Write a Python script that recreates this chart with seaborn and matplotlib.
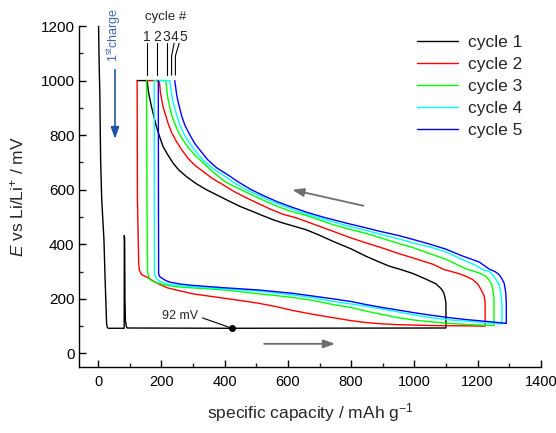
import matplotlib
matplotlib.use("Agg")
import matplotlib.pyplot as plt
from matplotlib.ticker import MultipleLocator
import numpy as np
import pandas as pd
import seaborn as sns

# cycle 1: first discharge (with spike), flat plateau at 92 mV, then charge back
cap1 = [1, 3, 5, 7.5, 11, 18, 22, 26.5, 29, 33,
        82, 82.5, 83.5, 84.5, 86, 89, 92,
        423, 1100,
        1100, 1097, 1093, 1085, 1068, 1037, 995, 958, 920, 889, 847, 800, 742, 700,
        658, 620, 584, 553, 520, 489, 450, 416, 380, 342, 310, 279, 255, 237, 220,
        205, 194, 184, 176, 168.5, 162, 158, 155, 123]
e1 = [1200, 1050, 950, 709, 563, 417, 260, 106, 94, 92,
      92, 432, 417, 200, 120, 98, 93,
      92, 93,
      185, 205, 222, 237, 255, 272, 293, 307, 320, 335, 356, 383, 411, 433,
      453, 466, 478, 490, 505, 520, 538, 557, 578, 600, 622, 648, 672, 697, 728,
      758, 795, 831, 868, 904, 940, 965, 1000, 1000]

cap2 = [123, 124, 128, 130, 137, 158, 175, 195, 220, 248, 300, 350, 405, 460, 511,
        560, 616, 680, 742, 800, 847, 900, 953, 1058, 1150, 1224,
        1224, 1221, 1211, 1200, 1184, 1160, 1142, 1095, 1058, 995, 953, 889, 847,
        795, 742, 690, 626, 584, 542, 469, 430, 395, 360, 331.5, 305, 284, 265,
        247.5, 232, 221, 205, 197, 193, 153]
e2 = [1000, 560, 330, 305, 289, 277, 265, 252, 240, 232, 218, 210, 201, 192, 183,
      172, 157, 143, 131, 120, 113, 108, 105, 102, 101, 100,
      185, 210, 234, 255, 271, 284, 292, 307, 327, 350, 365, 390, 405,
      425, 448, 470, 497, 510, 530, 570, 593, 618, 642, 667, 690, 715, 745,
      776, 810, 843, 904, 953, 1000, 1000]

cap3 = [153, 154, 156, 158, 163, 175, 186, 215, 248, 300, 405, 511, 616, 680, 742,
        800, 847, 900, 953, 1000, 1058, 1110, 1163, 1210, 1252,
        1252, 1249, 1245, 1237, 1226, 1205, 1163, 1100, 1058, 995, 953, 889, 847,
        795, 742, 711, 660, 605, 560, 521, 479, 437, 400, 363, 335, 311, 288, 268,
        254, 242, 233, 226, 221, 218, 214, 177]
e3 = [1000, 560, 300, 288, 271, 263, 258, 250, 244, 240, 232, 218, 205, 194, 179,
      168, 155, 142, 130, 122, 115, 110, 106, 104, 102,
      197, 230, 252, 268, 283, 295, 310, 345, 362, 388, 402, 425, 440,
      455, 472, 485, 505, 522, 542, 562, 585, 608, 630, 665, 695, 721, 750, 782,
      810, 843, 870, 904, 930, 953, 1000, 1000]

cap4 = [177, 177.5, 178, 181, 186, 195, 210, 226, 260, 300, 405, 511, 616, 680, 742,
        800, 847, 900, 953, 1005, 1058, 1110, 1163, 1220, 1277,
        1277, 1274, 1268, 1258, 1247, 1237, 1220, 1190, 1150, 1100, 1050, 995, 950,
        889, 826, 780, 732, 690, 647, 600, 553, 510, 469, 430, 395, 360, 331.5,
        310, 289.5, 273, 258, 249, 242, 236, 232, 226, 190]
e4 = [1000, 560, 290, 280, 273, 264, 257, 252, 248, 244, 236, 228, 214, 204, 191,
      181, 173, 162, 151, 140, 130, 123, 118, 113, 108,
      185, 220, 252, 272, 289, 301, 305, 325, 345, 372, 390, 405, 420,
      438, 457, 470, 486, 500, 515, 535, 555, 578, 600, 625, 654, 680, 709,
      738, 770, 800, 837, 870, 898, 925, 953, 1000, 1000]

cap5 = [190, 190.5, 191, 194, 200, 212, 226, 260, 300, 405, 511, 616, 680, 742,
        800, 847, 900, 953, 1005, 1058, 1110, 1163, 1230, 1291,
        1291, 1289, 1284, 1276, 1268, 1255, 1237, 1205, 1150, 1100, 1050, 995, 950,
        889, 826, 790, 753, 710, 663, 615, 568, 525, 484, 445, 410.5, 375, 347,
        325, 305, 288, 273.8, 264, 258, 252, 247.5, 242]
e5 = [1000, 560, 292, 282, 277, 268, 261, 254, 249, 240, 232, 220, 210, 200,
      190, 179, 168, 158, 148, 139, 131, 124, 117, 110,
      185, 225, 258, 275, 289, 300, 309, 335, 358, 382, 400, 418, 432,
      448, 466, 476, 487, 500, 516, 535, 555, 577, 600, 627, 654, 680, 709,
      740, 770, 805, 837, 870, 898, 925, 953, 1000]

labels = ["cycle 1", "cycle 2", "cycle 3", "cycle 4", "cycle 5"]
colors = ["#000000", "#ff0000", "#00ff00", "#00ffff", "#0000ff"]
cycle_nums = ["1", "2", "3", "4", "5"]
num_x = [153, 186, 216, 242, 268]

frames = []
for lab, cx, ey in zip(labels, [cap1, cap2, cap3, cap4, cap5], [e1, e2, e3, e4, e5]):
    frames.append(pd.DataFrame({"cap": cx, "E": ey, "cycle": lab}))
df = pd.concat(frames, ignore_index=True)

sns.set_style("ticks")
plt.rcParams["font.family"] = ["Liberation Sans", "DejaVu Sans"]
plt.rcParams["mathtext.fontset"] = "custom"
plt.rcParams["mathtext.rm"] = "Liberation Sans"
plt.rcParams["mathtext.it"] = "Liberation Sans:italic"
plt.rcParams["axes.linewidth"] = 1.0

fig = plt.figure(figsize=(5.56, 4.33), dpi=100)
ax = fig.add_axes([0.1426, 0.1524, 0.8300, 0.7875])

sns.lineplot(data=df, x="cap", y="E", hue="cycle", palette=colors, hue_order=labels,
             sort=False, estimator=None, lw=1.0, ax=ax)

ax.set_xlim(-60, 1400)
ax.set_ylim(-50, 1200)
ax.xaxis.set_major_locator(MultipleLocator(200))
ax.xaxis.set_minor_locator(MultipleLocator(100))
ax.yaxis.set_major_locator(MultipleLocator(200))
ax.yaxis.set_minor_locator(MultipleLocator(100))
ax.tick_params(which="major", direction="in", length=5, width=1, labelsize=11, colors="black")
ax.tick_params(which="minor", direction="in", length=2.8, width=1)
ax.tick_params(axis="x", pad=5.5, labelsize=10.5)
ax.tick_params(axis="y", pad=3.5)
sns.despine(ax=ax)
for s in ["left", "bottom"]:
    ax.spines[s].set_color("black")

ax.set_xlabel("specific capacity / mAh g$^{-1}$", fontsize=12.5, labelpad=9)
ax.set_ylabel("$E$ vs Li/Li$^{+}$ / mV", fontsize=12.5, labelpad=10)

# process-direction arrows
ax.annotate("", xy=(605, 602), xytext=(847, 539),
            arrowprops=dict(arrowstyle="-|>,head_length=0.7,head_width=0.25", color="#6e6e6e", lw=1.3))
ax.annotate("", xy=(758, 35), xytext=(516, 35),
            arrowprops=dict(arrowstyle="-|>,head_length=0.7,head_width=0.25", color="#6e6e6e", lw=1.3))
ax.annotate("", xy=(53, 776), xytext=(53, 1050),
            arrowprops=dict(arrowstyle="-|>,head_length=0.7,head_width=0.25", color="#2255a4", lw=1.2))
ax.text(48, 1166, "1$^{\\rm st}$charge", rotation=90, ha="center", va="center",
        fontsize=9, color="#3f66b0")

# 92 mV marker
ax.plot([423], [92], "o", color="black", ms=4)
ax.annotate("92 mV", xy=(423, 92), xytext=(258, 136), fontsize=9, ha="center", va="center",
            arrowprops=dict(arrowstyle="-", color="black", lw=0.8, relpos=(1, 0.5), shrinkA=1, shrinkB=2))

# cycle # markers
ax.text(214, 1233, "cycle #", fontsize=9.5, ha="center", va="center")
for n, xn in zip(cycle_nums, num_x):
    ax.text(xn, 1160, n, fontsize=10, ha="center", va="center")
ax.plot([153, 153], [1137, 1020], color="black", lw=0.8)
ax.plot([186, 186], [1137, 1020], color="black", lw=0.8)
ax.plot([216, 216], [1137, 1020], color="black", lw=0.8)
ax.plot([240, 232, 232], [1137, 1090, 1020], color="black", lw=0.8)
ax.plot([256, 244, 244], [1137, 1090, 1020], color="black", lw=0.8)

ax.legend(loc="upper left", bbox_to_anchor=(0.731, 0.975), frameon=False, fontsize=12.5,
          handlelength=2.4, handletextpad=0.56, labelspacing=0.4, borderpad=0, borderaxespad=0)

fig.savefig("out.png", dpi=100)
